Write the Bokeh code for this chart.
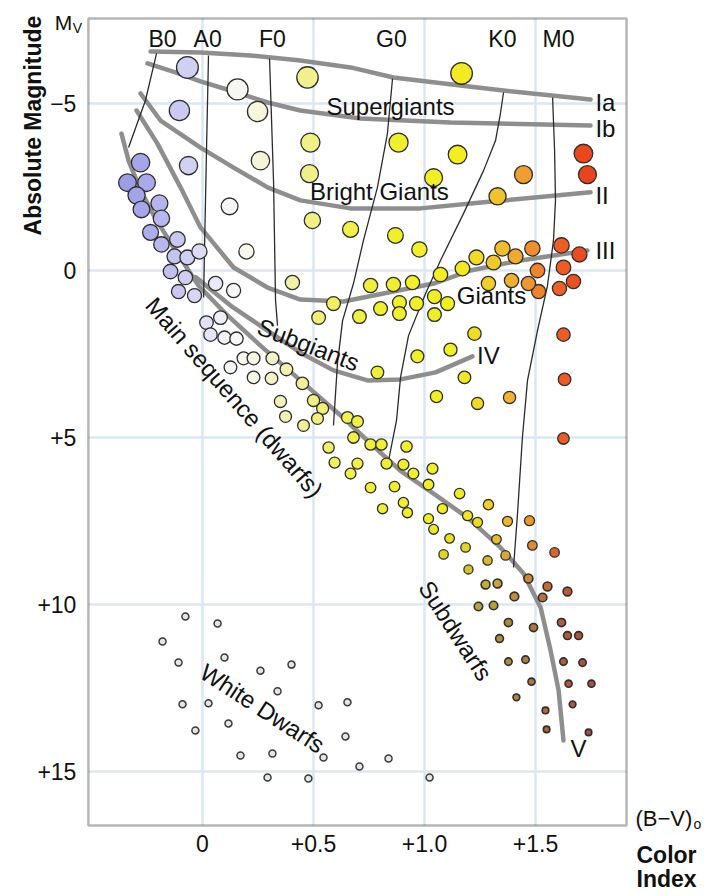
from bokeh.plotting import figure
from bokeh.models import Range1d, FixedTicker, Label, ColumnDataSource, BoxAnnotation
from bokeh.embed import file_html
from bokeh.resources import INLINE

# ---------------- data ----------------
star_bv = [
    -0.068, 0.158, -0.104, 0.248, 0.473, 0.486, -0.063, 0.261, 0.482, 0.122, 0.495, 0.667, 0.198, 0.405, 0.059, 0.140,
    1.167, 0.883, 1.149, 1.041, 1.446, 1.716, 1.734, 1.329, 0.869, 0.977,
    -0.279, -0.338, -0.252, -0.297, -0.275, -0.194, -0.185, -0.234, -0.185, -0.113, -0.126, -0.068, -0.014, -0.144, -0.077, -0.108, -0.036,
    0.081, 0.018, 0.036, 0.099, 0.153, 0.126, 0.185, 0.230, 0.315, 0.378, 0.230, 0.311, 0.450, 0.351, 0.500, 0.541, 0.374, 0.455, 0.518,
    0.653, 0.698, 0.568, 0.595, 0.667, 0.680, 0.698, 0.757, 0.806, 0.919, 0.829, 0.905, 0.950, 1.036, 0.757, 0.865, 1.018, 1.158, 0.905,
    0.923, 0.811, 1.081, 1.194, 1.018, 1.288, 1.239, 1.374, 1.473, 1.041, 1.113, 1.185, 1.324, 1.486, 1.586, 1.086, 1.284, 1.365, 1.198,
    1.468, 1.275, 1.329, 1.405, 1.554, 1.532, 1.644, 1.243, 1.311, 1.378, 1.491, 1.617, 1.644, 1.694, 1.338, 1.378, 1.455, 1.626, 1.712,
    1.482, 1.649, 1.752, 1.414, 1.667, 1.545, 1.550, 1.739,
    0.590, 0.523, 0.707, 0.802, 0.887, 0.887, 0.964, 1.045, 1.104, 1.045, 0.757, 0.860, 0.946, 1.072, 1.171, 1.234, 1.311, 1.351, 1.410,
    1.486, 1.617, 1.698, 1.509, 1.626, 1.671, 1.608, 1.514, 1.468, 1.392, 1.288, 1.225, 1.117, 0.968, 0.788, 1.180, 1.054, 1.239, 1.383,
    1.626, 1.631, 1.626,
]
star_mv = [
    -6.08, -5.42, -4.79, -4.76, -5.78, -3.83, -3.14, -3.29, -2.90, -1.92, -1.50, -1.23, -0.57, 0.36, 0.39, 0.60,
    -5.90, -3.83, -3.47, -2.78, -2.87, -3.50, -2.87, -2.22, -1.05, -0.63,
    -3.23, -2.63, -2.63, -2.25, -1.83, -2.01, -1.56, -1.14, -0.78, -0.93, -0.42, -0.39, -0.57, 0.03, 0.21, 0.63, 0.75,
    1.41, 1.56, 1.92, 2.01, 2.04, 2.90, 2.63, 2.63, 2.63, 2.96, 3.20, 3.23, 3.38, 3.92, 3.89, 4.13, 4.37, 4.64, 4.43,
    4.40, 4.52, 5.30, 5.75, 6.08, 5.00, 5.78, 5.21, 5.21, 5.27, 5.78, 5.81, 6.08, 5.93, 6.50, 6.47, 6.41, 6.68, 6.95,
    7.25, 7.13, 7.13, 7.34, 7.43, 7.01, 7.54, 7.51, 7.49, 7.75, 8.02, 8.29, 8.05, 8.23, 8.44, 8.50, 8.68, 8.53, 8.95,
    9.22, 9.40, 9.37, 9.76, 9.46, 9.79, 9.61, 10.06, 10.03, 10.54, 10.69, 10.54, 10.93, 10.93, 11.02, 11.71, 11.65, 11.71, 11.74,
    12.31, 12.37, 12.37, 12.78, 12.99, 13.17, 13.74, 13.83,
    0.99, 1.41, 1.38, 1.14, 0.96, 1.29, 0.99, 0.78, 0.99, 1.32, 0.45, 0.42, 0.36, 0.12, -0.06, -0.39, -0.24, -0.66, -0.42,
    -0.66, -0.75, -0.48, 0.00, -0.09, 0.33, 0.54, 0.63, 0.39, 0.30, 0.39, 1.89, 2.37, 2.57, 3.05, 3.20, 3.77, 3.98, 3.80,
    1.92, 3.26, 5.03,
]

wd_bv = [-0.077, 0.068, -0.180, -0.108, 0.099, 0.261, 0.401, 0.338, -0.090, 0.027, 0.523, 0.653,
         -0.032, 0.117, 0.644, 0.545, 0.171, 0.315, 0.293, 0.477, 0.707, 0.838, 1.023]
wd_mv = [10.36, 10.57, 11.11, 11.74, 11.59, 11.98, 11.80, 12.60, 12.99, 12.96, 13.02, 12.93,
         13.77, 13.56, 13.95, 14.58, 14.52, 14.46, 15.18, 15.21, 14.85, 14.61, 15.18]

# luminosity-class curves
Ia_bv = [-0.234, -0.009, 0.216, 0.441, 0.667, 0.860, 1.162, 1.356, 1.748]
Ia_mv = [-6.56, -6.53, -6.44, -6.29, -6.08, -5.78, -5.54, -5.39, -5.12]
Ib_bv = [-0.248, -0.122, -0.009, 0.140, 0.293, 0.441, 0.712, 1.117, 1.748]
Ib_mv = [-6.20, -5.93, -5.66, -5.36, -5.03, -4.79, -4.55, -4.43, -4.34]
II_bv = [-0.279, -0.189, -0.009, 0.140, 0.293, 0.441, 0.667, 0.982, 1.266, 1.748]
II_mv = [-5.30, -4.49, -3.68, -3.08, -2.49, -2.10, -1.86, -1.86, -2.04, -2.34]
III_bv = [-0.297, -0.203, -0.099, -0.009, 0.140, 0.293, 0.441, 0.635, 0.815, 1.041, 1.207, 1.432, 1.734]
III_mv = [-4.79, -3.80, -2.49, -1.29, -0.09, 0.51, 0.87, 0.93, 0.69, 0.39, 0.00, -0.30, -0.60]
IV_bv = [-0.030, 0.126, 0.293, 0.441, 0.590, 0.743, 0.892, 1.050, 1.216]
IV_mv = [0.20, 1.05, 1.80, 2.46, 2.99, 3.29, 3.26, 3.05, 2.57]
V_bv = [-0.365, -0.333, -0.279, -0.212, -0.122, -0.018, 0.104, 0.261, 0.441, 0.622, 0.757, 0.892,
        1.041, 1.194, 1.342, 1.446, 1.523, 1.568, 1.604, 1.626]
V_mv = [-4.10, -3.29, -2.40, -1.56, -0.60, 0.45, 1.29, 2.25, 3.29, 4.34, 5.18, 6.00,
        6.68, 7.40, 8.29, 9.07, 10.09, 11.38, 12.57, 14.07]

# spectral-type boundary lines
B0_bv = [-0.207, -0.257, -0.333]
B0_mv = [-6.50, -5.09, -3.68]
A0_bv = [0.027, 0.018, 0.009, 0.005]
A0_mv = [-6.44, -3.59, -0.60, 0.81]
F0_bv = [0.302, 0.320, 0.329, 0.338]
F0_mv = [-6.35, -2.69, 0.90, 1.65]
G0_bv = [0.856, 0.833, 0.788, 0.725, 0.680, 0.631, 0.608, 0.590]
G0_mv = [-5.75, -4.10, -2.49, -0.90, 0.39, 1.50, 2.78, 4.64]
K0_bv = [1.356, 1.342, 1.320, 1.266, 1.176, 1.072, 1.005, 0.928, 0.892, 0.874, 0.838]
K0_mv = [-5.33, -4.70, -3.89, -2.99, -1.71, -0.30, 0.69, 1.95, 3.20, 4.49, 5.69]
M0_bv = [1.577, 1.586, 1.590, 1.581, 1.554, 1.509, 1.464, 1.441, 1.419, 1.401]
M0_mv = [-5.18, -3.59, -2.10, -0.90, 0.45, 1.80, 3.29, 5.00, 7.28, 8.89]

spec_labels = ["B0", "A0", "F0", "G0", "K0", "M0"]
spec_bv = [-0.180, 0.023, 0.315, 0.851, 1.351, 1.604]

x_ticks = [0, 0.5, 1.0, 1.5]
x_tick_labels = ["0", "+0.5", "+1.0", "+1.5"]
y_ticks = [-5, 0, 5, 10, 15]
y_tick_labels = ["\u22125", "0", "+5", "+10", "+15"]

# plotted box (axis extent)
BOX_BV = (-0.514, 1.910)
BOX_MV = (-7.545, 16.617)

# ---------------- styling helpers ----------------
FONT = "Liberation Sans"
STOPS = [(-0.35, (156, 156, 230)), (-0.25, (170, 170, 236)), (-0.10, (202, 202, 242)), (0.00, (222, 222, 246)),
         (0.12, (246, 246, 250)), (0.20, (248, 248, 236)), (0.30, (244, 244, 206)), (0.45, (240, 240, 150)),
         (0.60, (240, 240, 90)), (0.80, (240, 240, 48)), (1.15, (244, 238, 32)), (1.28, (240, 210, 40)),
         (1.38, (240, 180, 48)), (1.47, (240, 150, 48)), (1.56, (238, 110, 40)), (1.65, (238, 85, 35)),
         (1.75, (232, 65, 30))]


def base_rgb(bv):
    if bv <= STOPS[0][0]:
        return STOPS[0][1]
    for (b0, c0), (b1, c1) in zip(STOPS[:-1], STOPS[1:]):
        if bv <= b1:
            t = (bv - b0) / (b1 - b0)
            return tuple(c0[i] + (c1[i] - c0[i]) * t for i in range(3))
    return STOPS[-1][1]


def star_color(bv, mv):
    r, g, b = base_rgb(bv)
    t = min(max((mv - 7.5) / 6.0, 0.0), 0.5)
    dark = (110, 95, 80)
    r, g, b = (r * (1 - t) + dark[0] * t, g * (1 - t) + dark[1] * t, b * (1 - t) + dark[2] * t)
    return "#%02x%02x%02x" % (int(r), int(g), int(b))


def star_size(mv):
    if mv <= 0:
        return 14.5 - 1.2 * mv
    return max(14.5 - 0.6 * mv, 6.5)


src = ColumnDataSource(dict(
    bv=star_bv, mv=star_mv,
    color=[star_color(b, m) for b, m in zip(star_bv, star_mv)],
    size=[star_size(m) for m in star_mv],
    lw=[1.6 if star_size(m) < 9 else 1.3 for m in star_mv],
))
wd_src = ColumnDataSource(dict(bv=wd_bv, mv=wd_mv))

# ---------------- figure: frame spans the whole canvas ----------------
W, H = 709, 894
PX_PER_BV, X0_PX = 222.0, 202.0
PX_PER_MV, Y0_PX = 33.4, 270.0
p = figure(width=W, height=H,
           x_range=Range1d(-X0_PX / PX_PER_BV, (W - X0_PX) / PX_PER_BV),
           y_range=Range1d((H - Y0_PX) / PX_PER_MV, -Y0_PX / PX_PER_MV),
           output_backend="svg", toolbar_location=None,
           min_border_left=0, min_border_right=0, min_border_top=0, min_border_bottom=0)
p.title.visible = False
p.background_fill_color = "white"
p.border_fill_color = "white"
p.outline_line_color = None
p.xgrid.visible = False
p.ygrid.visible = False

# axes pinned to the box edges
p.yaxis.fixed_location = BOX_BV[0]
p.yaxis.bounds = (BOX_MV[0], BOX_MV[1])
p.xaxis.fixed_location = BOX_MV[1]
p.xaxis.bounds = (BOX_BV[0], BOX_BV[1])
for ax in (p.xaxis[0], p.yaxis[0]):
    ax.axis_line_color = None
    ax.major_tick_line_color = None
    ax.minor_tick_line_color = None
    ax.major_label_text_font = FONT
    ax.major_label_text_font_size = "23px"
    ax.major_label_text_color = "#111111"
p.xaxis.ticker = FixedTicker(ticks=x_ticks)
p.yaxis.ticker = FixedTicker(ticks=y_ticks)
p.xaxis.major_label_overrides = {t: s for t, s in zip(x_ticks, x_tick_labels)}
p.yaxis.major_label_overrides = {t: s for t, s in zip(y_ticks, y_tick_labels)}
p.xaxis.major_label_standoff = 3
p.yaxis.major_label_standoff = 6

# grid lines confined to the box
GRID = dict(line_color="#dbe7f3", line_width=2.5)
p.segment(x0=x_ticks, y0=[BOX_MV[0]] * len(x_ticks), x1=x_ticks, y1=[BOX_MV[1]] * len(x_ticks), **GRID)
p.segment(x0=[BOX_BV[0]] * len(y_ticks), y0=y_ticks, x1=[BOX_BV[1]] * len(y_ticks), y1=y_ticks, **GRID)

# gray luminosity-class curves
for xs, ys in [(Ia_bv, Ia_mv), (Ib_bv, Ib_mv), (II_bv, II_mv), (III_bv, III_mv), (IV_bv, IV_mv), (V_bv, V_mv)]:
    p.line(xs, ys, line_color="#8e8e8e", line_width=4.5, line_cap="round", line_join="round")

# thin spectral-type lines
for xs, ys in [(B0_bv, B0_mv), (A0_bv, A0_mv), (F0_bv, F0_mv), (G0_bv, G0_mv), (K0_bv, K0_mv), (M0_bv, M0_mv)]:
    p.line(xs, ys, line_color="#2b2b2b", line_width=1.3, line_join="round")

# stars
p.scatter(x="bv", y="mv", size="size", fill_color="color", line_color="#2e2e2e", line_width="lw", source=src)
p.scatter(x="bv", y="mv", size=7, fill_color="#e6e6e0", line_color="#3a3a3a", line_width=1.5, source=wd_src)

# box outline
p.add_layout(BoxAnnotation(left=BOX_BV[0], right=BOX_BV[1], top=BOX_MV[0], bottom=BOX_MV[1],
                           fill_alpha=0, line_color="#111111", line_width=2.5))


def lab(text, x, y, size="24px", angle=0, align="center", style="normal", baseline="middle"):
    p.add_layout(Label(x=x, y=y, text=text, text_font=FONT, text_font_size=size, text_color="#111111",
                       text_align=align, text_baseline=baseline, angle=angle, angle_units="deg",
                       text_font_style=style))


for s, b in zip(spec_labels, spec_bv):
    lab(s, b, -6.92, size="23px")

lab("Supergiants", 0.847, -4.91)
lab("Bright Giants", 0.797, -2.37)
lab("Giants", 1.302, 0.75)
lab("Subgiants", 0.477, 2.22, angle=-21)
lab("Main sequence (dwarfs)", 0.144, 3.80, angle=-49)
lab("Subdwarfs", 1.140, 10.78, angle=-57)
lab("White Dwarfs", 0.270, 13.11, angle=-33)

lab("Ia", 1.77, -5.03, align="left")
lab("Ib", 1.77, -4.25, align="left")
lab("II", 1.77, -2.25, align="left")
lab("III", 1.77, -0.60, align="left")
lab("IV", 1.288, 2.54)
lab("V", 1.694, 14.31)

# axis titles
lab("Absolute Magnitude", -0.765, -4.34, size="23px", angle=90, style="bold")
lab("M", -0.626, -7.43, size="21px")
lab("V", -0.563, -7.25, size="14px")
lab("(B\u2212V)", 1.950, 16.41, size="22px", align="left")
lab("o", 2.212, 16.58, size="14px", align="left")
lab("Color", 1.955, 17.50, size="23px", align="left", style="bold")
lab("Index", 1.955, 18.22, size="23px", align="left", style="bold")

open("out.html", "w").write(file_html(p, INLINE))
